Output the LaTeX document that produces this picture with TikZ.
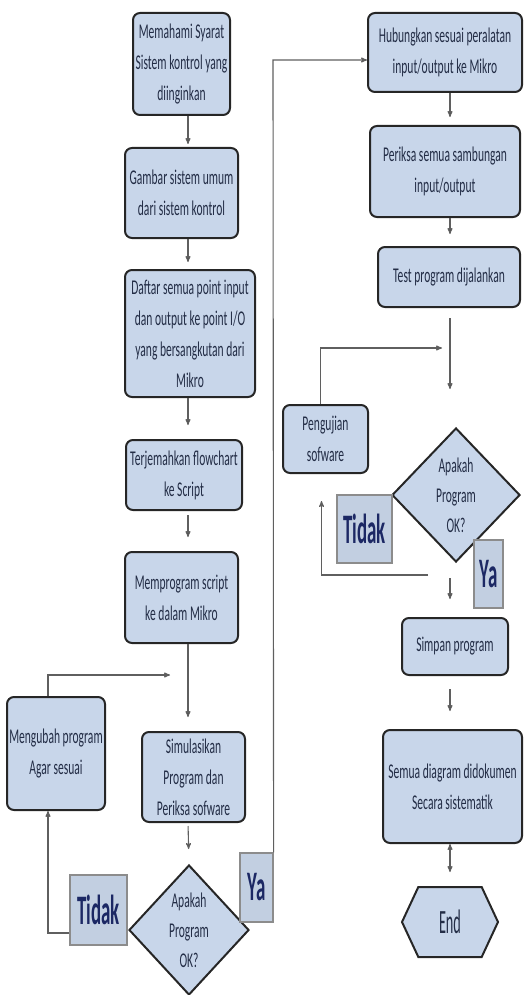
\documentclass[tikz,border=0pt]{standalone}
\usepackage{fontspec}
\setmainfont{Carlito}
\newfontfamily\narrowfont[FakeStretch=0.55]{Carlito}
\newfontfamily\tallfont[FakeStretch=0.45]{Carlito}
\newfontfamily\slimfont[FakeStretch=0.42]{Carlito}
\usepackage{tikz}
\usetikzlibrary{arrows,calc,positioning,shapes.geometric,shapes.symbols}

\definecolor{boxblue}{RGB}{200,214,234}
\definecolor{inkblue}{RGB}{35,45,70}
\definecolor{navy}{RGB}{28,40,100}
\definecolor{wire}{RGB}{95,95,95}

\tikzset{
  proc/.style={draw=black!85, line width=2pt, rounded corners=7pt, fill=boxblue,
    align=center, inner sep=0pt, text=inkblue, font=\narrowfont\fontsize{21}{31}\selectfont},
  decide/.style={diamond, aspect=1, draw=black!85, line width=2pt, fill=boxblue,
    align=center, inner sep=0pt, text=inkblue, font=\narrowfont\fontsize{21}{30}\selectfont},
  answer/.style={draw=black!45, line width=1.2pt, fill=boxblue!92!gray, inner sep=0pt,
    text=navy, font=\tallfont\bfseries\fontsize{42}{42}\selectfont},
  terminal/.style={signal, signal to=east and west, signal pointer angle=130,
    draw=black!85, line width=2pt, fill=boxblue, inner sep=0pt, text=inkblue,
    font=\slimfont\fontsize{34}{34}\selectfont},
  link/.style={draw=wire, line width=1.1pt}
}

\begin{document}
\begin{tikzpicture}[->,>=stealth',semithick,x=1pt,y=-1pt]
  \useasboundingbox (0,0) rectangle (525,995);
  \coordinate (lx) at (188,0);
  \coordinate (rx) at (450,0);

  % left column
  \node[proc, minimum width=97pt, minimum height=102pt] (mem) at (181.5,64) {Memahami Syarat\\Sistem kontrol yang\\diinginkan};
  \node[proc, minimum width=113pt, minimum height=90pt] (gam) at (181.5,193) {Gambar sistem umum\\dari sistem kontrol};
  \node[proc, minimum width=130pt, minimum height=127pt] (daf) at (190,333.5) {Daftar semua point input\\dan output ke point I/O\\yang bersangkutan dari\\Mikro};
  \node[proc, minimum width=116pt, minimum height=70pt] (ter) at (184,475) {Terjemahkan flowchart\\ke Script};
  \node[proc, minimum width=113pt, minimum height=91pt] (memp) at (181.5,597.5) {Memprogram script\\ke dalam Mikro};
  \node[proc, minimum width=103pt, minimum height=90pt] (sim) at (193.5,777) {Simulasikan\\Program dan\\Periksa sofware};
  \node[decide, minimum width=120pt, minimum height=130pt] (dia1) at (189,930) {Apakah\\Program\\OK?};
  \node[proc, minimum width=98pt, minimum height=113pt] (ubah) at (56,753.5) {Mengubah program\\Agar sesuai};
  \node[answer, minimum width=57pt, minimum height=70pt] (tidak1) at (98.5,910) {Tidak};
  \node[answer, minimum width=33pt, minimum height=69pt] (ya1) at (256.5,887.5) {Ya};

  % right column
  \node[proc, minimum width=154pt, minimum height=79pt] (hub) at (445,52.5) {Hubungkan sesuai peralatan\\input/output ke Mikro};
  \node[proc, minimum width=150pt, minimum height=91pt] (per) at (445,171.5) {Periksa semua sambungan\\input/output};
  \node[proc, minimum width=142pt, minimum height=60pt] (test) at (449,277) {Test program dijalankan};
  \node[proc, minimum width=85pt, minimum height=68pt] (uji) at (325.5,439) {Pengujian\\sofware};
  \node[decide, minimum width=128pt, minimum height=134pt] (dia2) at (456,495) {Apakah\\Program\\OK?};
  \node[answer, minimum width=55pt, minimum height=68pt] (tidak2) at (364.5,529) {Tidak};
  \node[answer, minimum width=29pt, minimum height=68pt] (ya2) at (488.5,574) {Ya};
  \node[proc, minimum width=106pt, minimum height=57pt] (simp) at (455,646.5) {Simpan program};
  \node[proc, minimum width=139pt, minimum height=113pt] (semua) at (452.5,786.5) {Semua diagram didokumen\\Secara sistematik};
  \node[terminal, minimum width=96pt, minimum height=70pt] (end) at (450,922) {End};

  \path[link]
    (mem.south -| lx) edge[shorten >=3pt] (gam.north -| lx)
    (gam.south -| lx) edge[shorten >=7pt] (daf.north -| lx)
    (daf.south -| lx) edge[shorten >=14pt] (ter.north -| lx)
    (ter.south -| lx) edge[shorten <=4pt, shorten >=14pt] (memp.north -| lx)
    (memp.south -| lx) edge[shorten >=14pt] (sim.north -| lx)
    (sim.south -| lx) edge[shorten <=3pt, shorten >=15pt] (dia1.north)
    (hub.south -| rx) edge[shorten >=8pt] (per.north -| rx)
    (per.south -| rx) edge[shorten >=12pt] (test.north -| rx)
    (test.south -| rx) edge[shorten <=10pt, shorten >=38pt] (dia2.north -| rx)
    (dia2.south -| rx) edge[shorten <=15pt, shorten >=18pt] (simp.north -| rx)
    (simp.south -| rx) edge[shorten <=13pt, shorten >=18pt] (semua.north -| rx)
    (semua.south -| rx) edge[shorten <=5pt] ([yshift=50pt]end.center);

  % loops back
  \coordinate (j1) at (170,675);
  \coordinate (c1) at (273,60);
  \coordinate (j2) at (442,348);
  \coordinate (k2) at (428,575);
  \draw[link] ([yshift=-23pt]tidak1.west) -| ([xshift=-8pt]ubah.south);
  \draw[link] ([xshift=-8pt]ubah.north) |- (j1);
  \draw[link] (ya1.north east) -- (c1) -- (c1 -| hub.west);
  \draw[link] ([xshift=-5pt]uji.north) |- (j2);
  \draw[link, shorten >=27pt] (k2) -| ([xshift=-4pt]uji.south);
\end{tikzpicture}
\end{document}
